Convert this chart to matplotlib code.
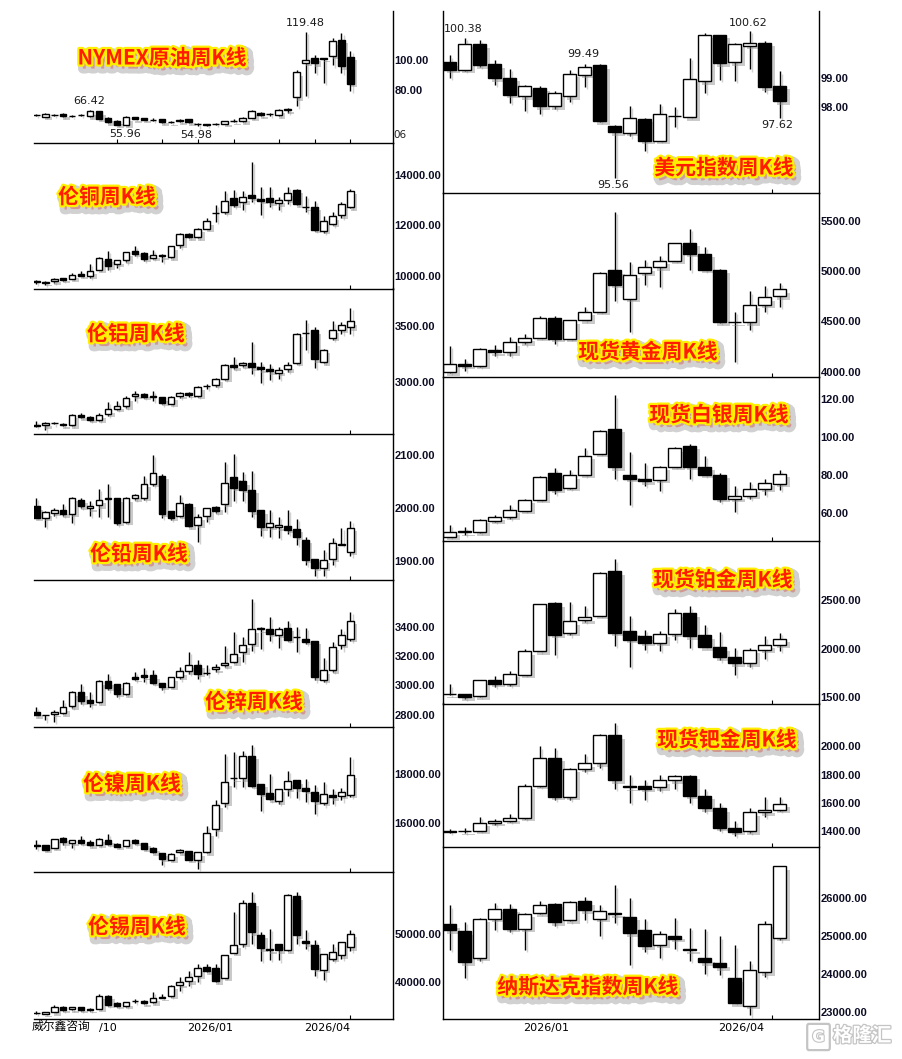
import matplotlib
matplotlib.use('Agg')
import matplotlib.pyplot as plt
import matplotlib.patheffects as pe
from matplotlib.patches import Rectangle, FancyBboxPatch

# ---------------- data (weekly OHLC) ----------------
oil_o = [62.9, 61.5, 63.0, 63.6, 62.0, 62.9, 61.8, 65.2, 60.9, 59.0, 56.3, 61.3, 60.9, 59.6, 60.0, 58.0, 58.4, 59.9, 56.6, 56.5, 56.9, 56.8, 58.6, 58.4, 60.9, 64.0, 63.4, 62.5, 65.9, 75.0, 98.6, 101.8, 101.8, 103.2, 114.3, 102.7]
oil_h = [63.5, 64.0, 63.6, 64.2, 62.5, 63.6, 66.42, 65.5, 61.3, 59.4, 61.8, 61.6, 61.0, 60.5, 60.3, 58.6, 60.1, 60.1, 57.3, 56.5, 57.4, 58.8, 59.8, 61.2, 66.0, 64.6, 64.5, 67.0, 67.6, 93.2, 119.48, 103.4, 101.8, 115.2, 118.9, 106.8]
oil_l = [62.3, 61.3, 62.3, 61.5, 61.4, 62.2, 61.4, 60.0, 57.6, 56.0, 55.96, 59.8, 59.3, 58.8, 57.6, 57.3, 58.1, 57.5, 54.98, 55.5, 56.3, 56.5, 58.1, 58.2, 60.6, 62.0, 62.0, 62.0, 64.0, 68.6, 76.1, 91.4, 84.5, 96.6, 91.4, 79.1]
oil_c = [62.9, 63.6, 62.9, 61.9, 61.8, 62.8, 65.2, 60.2, 57.9, 56.3, 61.3, 60.0, 59.5, 59.5, 57.9, 57.9, 59.7, 57.7, 56.5, 56.1, 56.8, 58.4, 58.7, 60.9, 65.4, 62.5, 63.3, 66.3, 67.0, 92.0, 100.0, 98.2, 101.1, 113.0, 96.1, 84.1]

cu_o = [9774, 9730, 9790, 9920, 9880, 10090, 10010, 10250, 10675, 10475, 10610, 11000, 10910, 10715, 10835, 10740, 11230, 11670, 11535, 11870, 12480, 12555, 13100, 12950, 13230, 13060, 13100, 12890, 13020, 13430, 12740, 12755, 11800, 12065, 12400, 12730]
cu_h = [9840, 9780, 9900, 9930, 10100, 10180, 10480, 10740, 11000, 10620, 10960, 11200, 10950, 11020, 10870, 11180, 11700, 11700, 11900, 12300, 12800, 13390, 13400, 13360, 14540, 13520, 13520, 13130, 13520, 13460, 13190, 12970, 12360, 12530, 12930, 13445]
cu_l = [9680, 9640, 9710, 9800, 9860, 9980, 9920, 10230, 10240, 10320, 10530, 10800, 10600, 10660, 10550, 10700, 11100, 11500, 11500, 11850, 12130, 12460, 12740, 12600, 12930, 12400, 12730, 12600, 12860, 12800, 12530, 11800, 11710, 12000, 12300, 12700]
cu_c = [9770, 9770, 9880, 9840, 10040, 10000, 10210, 10715, 10370, 10610, 10940, 10870, 10675, 10835, 10780, 11165, 11670, 11535, 11870, 12160, 12490, 12970, 12820, 13125, 13100, 12990, 12930, 13020, 13300, 12835, 12730, 11830, 12160, 12360, 12860, 13390]

al_o = [2611, 2611, 2635, 2626, 2611, 2707, 2690, 2662, 2716, 2760, 2785, 2880, 2895, 2871, 2866, 2806, 2880, 2900, 2880, 2963, 2976, 3030, 3155, 3150, 3173, 3135, 3120, 3084, 3114, 3173, 3440, 3464, 3180, 3398, 3470, 3494]
al_h = [2650, 2640, 2645, 2630, 2710, 2720, 2700, 2720, 2820, 2830, 2880, 2925, 2900, 2925, 2868, 2880, 2910, 2910, 2965, 2985, 3040, 3160, 3230, 3180, 3360, 3180, 3165, 3135, 3180, 3440, 3554, 3494, 3295, 3545, 3540, 3668]
al_l = [2600, 2566, 2620, 2605, 2605, 2680, 2655, 2650, 2700, 2750, 2770, 2835, 2860, 2835, 2800, 2800, 2860, 2870, 2870, 2935, 2960, 3020, 3120, 3140, 3075, 2994, 3020, 3030, 3090, 3160, 3285, 3126, 3170, 3380, 3434, 3434]
al_c = [2610, 2635, 2634, 2611, 2707, 2686, 2662, 2707, 2755, 2790, 2862, 2895, 2871, 2872, 2815, 2871, 2900, 2889, 2960, 2965, 3030, 3155, 3135, 3173, 3135, 3114, 3096, 3110, 3150, 3434, 3440, 3204, 3290, 3470, 3515, 3545]

pb_o = [2003, 1982, 1991, 1996, 1989, 2016, 2000, 2005, 2017, 2018, 1974, 2018, 2019, 2046, 2061, 1994, 1986, 2008, 1969, 1985, 2002, 2008, 2059, 2050, 2034, 1996, 1965, 1964, 1966, 1961, 1941, 1905, 1888, 1905, 1931, 1918]
pb_h = [2019, 1995, 2000, 2007, 2020, 2018, 2014, 2036, 2046, 2018, 2020, 2027, 2060, 2099, 2063, 1995, 2024, 2010, 1989, 2001, 2003, 2087, 2102, 2067, 2069, 1996, 1996, 1984, 1996, 1980, 1946, 1905, 1921, 1944, 1963, 1976]
pb_l = [1982, 1964, 1985, 1986, 1972, 2000, 1986, 1984, 1984, 1968, 1972, 2016, 2015, 2042, 1982, 1978, 1984, 1964, 1936, 1974, 1990, 1993, 2013, 2013, 1983, 1947, 1946, 1944, 1952, 1930, 1893, 1873, 1873, 1893, 1931, 1911]
pb_c = [1982, 1992, 1997, 1988, 2019, 2003, 2003, 2016, 2018, 1972, 2018, 2025, 2046, 2066, 1989, 1982, 2009, 1966, 1984, 2000, 1994, 2047, 2038, 2034, 1994, 1964, 1972, 1968, 1959, 1946, 1903, 1888, 1903, 1934, 1932, 1963]

zn_o = [2823, 2796, 2807, 2812, 2860, 2955, 2898, 2887, 3029, 3007, 2939, 3057, 3068, 3068, 3016, 2993, 3061, 3097, 3140, 3085, 3110, 3136, 3159, 3231, 3283, 3381, 3381, 3345, 3392, 3329, 3317, 3304, 3039, 3102, 3277, 3317]
zn_h = [2857, 2800, 2830, 2898, 2960, 3011, 2955, 3035, 3079, 3010, 3025, 3091, 3118, 3102, 3018, 3061, 3129, 3227, 3170, 3136, 3147, 3272, 3367, 3329, 3585, 3397, 3465, 3397, 3442, 3397, 3390, 3306, 3186, 3299, 3385, 3499]
zn_l = [2796, 2762, 2751, 2807, 2850, 2875, 2853, 2880, 2966, 2921, 2935, 3034, 3027, 3011, 2966, 2990, 3041, 3080, 3041, 3068, 3091, 3125, 3154, 3163, 3238, 3249, 3306, 3254, 3302, 3227, 3283, 3034, 3027, 3095, 3245, 3306]
zn_c = [2796, 2797, 2819, 2853, 2955, 2893, 2882, 3029, 2984, 2943, 3018, 3045, 3061, 3018, 2993, 3057, 3097, 3140, 3080, 3086, 3125, 3154, 3215, 3277, 3381, 3390, 3351, 3385, 3311, 3328, 3299, 3057, 3102, 3265, 3345, 3442]

ni_o = [15100, 15120, 15000, 15405, 15200, 15300, 15250, 15136, 15325, 15165, 15095, 15325, 15200, 15000, 14800, 14515, 14825, 14870, 14515, 14825, 15770, 16820, 17820, 17820, 18740, 17590, 17230, 16880, 17390, 17730, 17420, 17280, 16820, 17150, 17120, 17150]
ni_h = [15300, 15130, 15380, 15460, 15320, 15500, 15300, 15400, 15570, 15200, 15330, 15370, 15210, 15020, 14800, 14790, 14940, 14890, 14840, 15900, 16920, 18800, 18875, 18940, 19150, 17600, 17990, 17400, 18130, 17760, 17800, 17530, 17660, 17390, 17420, 18670]
ni_l = [14960, 14900, 14990, 15100, 15000, 15150, 15080, 15100, 15130, 15030, 15080, 15150, 14940, 14800, 14310, 14500, 14800, 14500, 14150, 14800, 15470, 16650, 17460, 17460, 17460, 16510, 16920, 16780, 17120, 17010, 16850, 16380, 16720, 16780, 16920, 17050]
ni_c = [15095, 14920, 15365, 15230, 15300, 15200, 15100, 15365, 15165, 15055, 15300, 15200, 14960, 14825, 14555, 14760, 14920, 14530, 14825, 15610, 16740, 17660, 17830, 18710, 17520, 17190, 16960, 17390, 17690, 17420, 17320, 16880, 17190, 17050, 17280, 17960]

sn_o = [33570, 33360, 33710, 34760, 34340, 34760, 34480, 34400, 37200, 35600, 35100, 36160, 36000, 35800, 37000, 37130, 39500, 40200, 41400, 43150, 43000, 40900, 46150, 48000, 56600, 49900, 47000, 48000, 46650, 58000, 48700, 47800, 42600, 44900, 45600, 47300]
sn_h = [33900, 33720, 35300, 35000, 34900, 34900, 34600, 37500, 37300, 35800, 35900, 36500, 36200, 37900, 37500, 39500, 41000, 42450, 43850, 43850, 43850, 45800, 54700, 57200, 58900, 50500, 51200, 48100, 58400, 58900, 51000, 48900, 46000, 47900, 48500, 51000]
sn_l = [33300, 33300, 33700, 34000, 34150, 33900, 34000, 34300, 35100, 34800, 34900, 35600, 35500, 35700, 36600, 37000, 38250, 39300, 40000, 42100, 40000, 40800, 46100, 47300, 48000, 44400, 44750, 44550, 46500, 48000, 47000, 41260, 40550, 44400, 44900, 46500]
sn_c = [33560, 33710, 34760, 34200, 34760, 34200, 34200, 37200, 35320, 35100, 35800, 36150, 35600, 36700, 36700, 39300, 40000, 41000, 43000, 42300, 40200, 45700, 47830, 56600, 50500, 47100, 46650, 46650, 58200, 49800, 48200, 42800, 45950, 46400, 48400, 50100]

dx_o = [99.54, 99.29, 100.16, 99.47, 99.01, 98.38, 98.67, 98.03, 98.38, 99.11, 99.45, 97.34, 97.11, 97.60, 96.85, 97.71, 97.66, 98.89, 100.49, 99.54, 100.12, 100.22, 98.74]
dx_h = [99.78, 100.38, 100.32, 99.61, 99.32, 98.78, 98.72, 98.55, 99.29, 99.49, 99.47, 97.40, 98.05, 97.63, 98.11, 98.02, 99.70, 100.56, 100.49, 100.22, 100.62, 100.28, 99.23]
dx_l = [99.01, 99.24, 99.38, 98.77, 98.14, 97.86, 97.76, 97.93, 98.17, 98.69, 97.49, 95.56, 96.99, 96.48, 96.85, 97.33, 97.66, 98.48, 98.95, 98.90, 99.30, 98.52, 97.62]
dx_c = [99.29, 100.18, 99.44, 99.00, 98.43, 98.72, 98.03, 98.49, 99.15, 99.40, 97.51, 97.14, 97.63, 96.85, 97.77, 97.70, 98.98, 100.49, 99.52, 100.18, 100.21, 98.69, 98.21]

au_o = [3994, 4077, 4060, 4213, 4193, 4293, 4336, 4532, 4326, 4509, 4598, 5007, 4724, 4983, 5040, 5106, 5282, 5173, 5013, 4495, 4492, 4668, 4748]
au_h = [4253, 4127, 4230, 4260, 4349, 4376, 4549, 4549, 4515, 4648, 4997, 5594, 5096, 5116, 5156, 5282, 5422, 5246, 5020, 4592, 4798, 4854, 4884]
au_l = [3984, 4004, 4044, 4160, 4160, 4270, 4336, 4276, 4326, 4509, 4598, 4708, 4392, 4867, 4841, 5100, 5007, 5007, 4482, 4094, 4416, 4598, 4641]
au_c = [4077, 4060, 4226, 4193, 4293, 4336, 4532, 4326, 4509, 4598, 4983, 4864, 4963, 5040, 5106, 5282, 5173, 5013, 4492, 4492, 4668, 4741, 4821]

ag_o = [47.6, 50.4, 49.9, 56.0, 58.1, 61.3, 67.1, 81.2, 73.3, 80.1, 91.2, 104.4, 80.1, 78.0, 77.5, 84.5, 95.6, 84.5, 80.3, 67.5, 69.2, 72.7, 75.4]
ag_h = [53.9, 52.5, 56.6, 59.0, 64.3, 67.3, 79.6, 83.6, 82.8, 94.2, 103.9, 122.0, 92.4, 86.5, 84.6, 94.7, 96.5, 90.3, 81.0, 74.5, 76.3, 77.7, 82.9]
ag_l = [47.6, 48.5, 49.6, 55.5, 56.9, 61.0, 67.1, 70.1, 72.7, 79.8, 91.0, 78.0, 64.3, 74.1, 71.7, 84.5, 78.0, 79.8, 65.7, 60.4, 67.5, 69.6, 72.2]
ag_c = [50.2, 49.9, 56.4, 58.1, 61.7, 67.1, 79.2, 72.2, 79.8, 90.3, 103.5, 84.2, 78.0, 76.8, 84.5, 94.2, 84.5, 80.3, 67.5, 69.2, 72.7, 75.9, 80.7]

pt_o = [1535, 1537, 1510, 1675, 1640, 1733, 1973, 2469, 2164, 2291, 2342, 2795, 2178, 2127, 2062, 2154, 2366, 2137, 2017, 1914, 1853, 1990, 2041]
pt_h = [1634, 1540, 1680, 1716, 1777, 1993, 2456, 2486, 2480, 2445, 2788, 2918, 2342, 2195, 2182, 2411, 2435, 2247, 2171, 2007, 2007, 2127, 2161]
pt_l = [1530, 1486, 1505, 1606, 1616, 1733, 1973, 1932, 2137, 2274, 2342, 2034, 1818, 1983, 1976, 2086, 2010, 2017, 1880, 1726, 1818, 1897, 1976]
pt_c = [1540, 1503, 1675, 1640, 1743, 1973, 2456, 2144, 2281, 2325, 2777, 2164, 2092, 2062, 2154, 2366, 2130, 2017, 1914, 1853, 1990, 2041, 2103]

pd_o = [1390, 1395, 1400, 1455, 1470, 1490, 1720, 1920, 1640, 1840, 1880, 2080, 1715, 1720, 1710, 1760, 1790, 1650, 1560, 1420, 1395, 1530, 1550]
pd_h = [1410, 1420, 1500, 1480, 1520, 1735, 2000, 1990, 1850, 1950, 2090, 2170, 1800, 1760, 1800, 1800, 1800, 1700, 1600, 1470, 1560, 1640, 1640]
pd_l = [1380, 1380, 1395, 1440, 1460, 1480, 1710, 1620, 1620, 1820, 1850, 1700, 1600, 1620, 1680, 1700, 1600, 1530, 1400, 1360, 1380, 1500, 1540]
pd_c = [1395, 1400, 1455, 1470, 1490, 1720, 1920, 1640, 1840, 1880, 2080, 1760, 1710, 1700, 1760, 1790, 1650, 1560, 1420, 1390, 1530, 1550, 1590]

nq_o = [25316, 25132, 24439, 25465, 25728, 25202, 25614, 25860, 25421, 25930, 25465, 25579, 25526, 25158, 24781, 25026, 24675, 24430, 24298, 23904, 23184, 24061, 24965]
nq_h = [25816, 25377, 25491, 25877, 25860, 25605, 25930, 25886, 25947, 26035, 25833, 26342, 26018, 25465, 25140, 25491, 25228, 25202, 25000, 24763, 24342, 25395, 26868]
nq_l = [24649, 23912, 24368, 25175, 25114, 24649, 25596, 25272, 25395, 25421, 25000, 25351, 24237, 24588, 24430, 24675, 24350, 24018, 23974, 23246, 22921, 23930, 24895]
nq_c = [25158, 24325, 25465, 25728, 25202, 25596, 25833, 25377, 25903, 25684, 25667, 25623, 25088, 24737, 25070, 24939, 24640, 24325, 24193, 23246, 24123, 25333, 26842]

titles_left = ['NYMEX原油周K线', '伦铜周K线', '伦铝周K线', '伦铅周K线', '伦锌周K线', '伦镍周K线', '伦锡周K线']
titles_right = ['美元指数周K线', '现货黄金周K线', '现货白银周K线', '现货铂金周K线', '现货钯金周K线', '纳斯达克指数周K线']

ticks_left = [[80, 100], [10000, 12000, 14000], [3000, 3500], [1900, 2000, 2100],
              [2800, 3000, 3200, 3400], [16000, 18000], [40000, 50000]]
ticks_right = [[98, 99], [4000, 4500, 5000, 5500], [60, 80, 100, 120],
               [1500, 2000, 2500], [1400, 1600, 1800, 2000], [23000, 24000, 25000, 26000]]

annotations = [('119.48', 305, 22.7), ('66.42', 89, 101), ('55.96', 125, 133.5), ('54.98', 196, 135),
               ('100.38', 463, 28.7), ('99.49', 583, 54), ('95.56', 613, 185),
               ('100.62', 748, 22.7), ('97.62', 777, 125)]

# ---------------- layout ----------------
W, H = 902, 1059
fig = plt.figure(figsize=(W / 100, H / 100), dpi=100)
fig.patch.set_facecolor('white')

CJK = ['Noto Sans CJK SC', 'DejaVu Sans']


def ax_at(x0, y0, x1, y1):
    # half-pixel shift so 1px frame lines land on a single pixel row/column
    x0 += 0.5; x1 += 0.5; y0 += 0.5; y1 += 0.5
    ax = fig.add_axes([x0 / W, 1 - y1 / H, (x1 - x0) / W, (y1 - y0) / H])
    ax.patch.set_visible(False)   # transparent, so neighbouring frame lines are not covered
    return ax


def draw_candles(ax, o, h, l, c, width):
    for i, (oo, hh, ll, cc) in enumerate(zip(o, h, l, c)):
        ax.plot([i, i], [ll, hh], color='black', lw=1.0, zorder=2, solid_capstyle='butt',
                path_effects=[pe.SimpleLineShadow(offset=(1.5, -1.5), shadow_color='#999999', alpha=0.45),
                              pe.Normal()])
        up = cc >= oo
        rect = Rectangle((i - width / 2, min(oo, cc)), width, abs(cc - oo),
                         facecolor='white' if up else 'black', edgecolor='black', lw=1.0, zorder=3)
        rect.set_path_effects([pe.SimplePatchShadow(offset=(2.5, -2.5), shadow_rgbFace='#8a8a8a', alpha=0.45),
                               pe.Normal()])
        ax.add_patch(rect)


def style_axis(ax, ticks, left_col):
    for s in ax.spines.values():
        s.set_linewidth(1.0)
        s.set_color('black')
        s.set_zorder(5)
    ax.spines['top'].set_visible(False)
    if left_col:
        ax.spines['left'].set_visible(False)
    ax.yaxis.tick_right()
    ax.set_yticks(ticks)
    ax.set_yticklabels([f'{t:.2f}' for t in ticks], fontfamily='Liberation Sans', fontweight='bold',
                       fontsize=8.0, color='#0c0c24')
    ax.tick_params(axis='y', length=0, pad=1.6)
    ax.tick_params(axis='x', which='both', direction='in', length=3, width=0.8, labelbottom=False)


def put_title(x, y, s):
    fig.text(x / W, 1 - y / H, s, ha='center', va='center', fontsize=15, fontweight='bold',
             color='#ff1c00', family=CJK, zorder=10,
             path_effects=[pe.Stroke(linewidth=7, foreground='#9a9a9a', alpha=0.45, offset=(2.5, -3)),
                           pe.Stroke(linewidth=3.2, foreground='#fff000'), pe.Normal()])


left_data = [(oil_o, oil_h, oil_l, oil_c), (cu_o, cu_h, cu_l, cu_c), (al_o, al_h, al_l, al_c),
             (pb_o, pb_h, pb_l, pb_c), (zn_o, zn_h, zn_l, zn_c), (ni_o, ni_h, ni_l, ni_c),
             (sn_o, sn_h, sn_l, sn_c)]
left_rows = [(10, 142), (142, 288), (288, 434), (434, 579), (579, 726), (726, 871), (871, 1018)]
left_ylims = [(44.03, 134.1), (9495, 15300), (2530, 3841), (1866, 2138), (2721, 3721), (14045, 19915), (32390, 63200)]
left_title_pos = [(162, 58), (107, 197), (136, 334), (139, 554), (254, 702), (132, 784), (137, 927)]

right_data = [(dx_o, dx_h, dx_l, dx_c), (au_o, au_h, au_l, au_c), (ag_o, ag_h, ag_l, ag_c),
              (pt_o, pt_h, pt_l, pt_c), (pd_o, pd_h, pd_l, pd_c), (nq_o, nq_h, nq_l, nq_c)]
right_rows = [(10, 192), (192, 376), (376, 540), (540, 703), (703, 846), (846, 1018)]
right_ylims = [(95.06, 101.33), (3951, 5784), (45.5, 132.0), (1438, 3113), (1286, 2307), (22842, 27368)]
right_title_pos = [(724, 168), (648, 352), (719, 415), (723, 580), (727, 740), (588, 987)]

for k, (d, (y0, y1)) in enumerate(zip(left_data, left_rows)):
    ax = ax_at(33, y0, 392, y1)
    draw_candles(ax, *d, width=0.75)
    ax.set_xlim(-0.30, 39.68)
    ax.set_ylim(*left_ylims[k])
    style_axis(ax, ticks_left[k], True)
    ax.set_xticks([9, 14, 18, 22, 27, 31, 35] if k == 0 else [35])

for k, (d, (y0, y1)) in enumerate(zip(right_data, right_rows)):
    ax = ax_at(442, y0, 818, y1)
    draw_candles(ax, *d, width=0.87)
    ax.set_xlim(-0.487, 24.58)
    ax.set_ylim(*right_ylims[k])
    style_axis(ax, ticks_right[k], False)
    ax.set_xticks([21.5])

for s, (x, y) in zip(titles_left, left_title_pos):
    put_title(x, y, s)
for s, (x, y) in zip(titles_right, right_title_pos):
    put_title(x, y, s)

for s, x, y in annotations:
    fig.text(x / W, 1 - y / H, s, ha='center', va='center', fontsize=8, color='#1a1a1a',
             family='DejaVu Sans', zorder=11)

# truncated axis label fragment in the top-left panel
fig.text(393 / W, 1 - 135 / H, '06', ha='left', va='center', fontsize=7.5, color='#222222', family='DejaVu Sans')

# date labels
for s, x in [('/10', 117), ('2026/01', 233), ('2026/04', 350), ('2026/01', 569), ('2026/04', 764)]:
    fig.text(x / W, 1 - 1028 / H, s, ha='right', va='center', fontsize=8, color='black', family='DejaVu Sans')
fig.text(32 / W, 1 - 1026 / H, '威尔鑫咨询', ha='left', va='center', fontsize=8.5, color='black', family=CJK)

# watermark
box = FancyBboxPatch((809 / W, 1 - 1048 / H), 19 / W, 22 / H, boxstyle='round,pad=0.002',
                     transform=fig.transFigure, facecolor='white', edgecolor='#c4c4c4', lw=1.6)
fig.patches.append(box)
fig.text(818.5 / W, 1 - 1037 / H, 'G', ha='center', va='center', fontsize=11, fontweight='bold',
         color='white', family='DejaVu Sans',
         path_effects=[pe.Stroke(linewidth=1.6, foreground='#c4c4c4'), pe.Normal()])
fig.text(833 / W, 1 - 1036 / H, '格隆汇', ha='left', va='center', fontsize=14, fontweight='bold',
         color='white', family=CJK,
         path_effects=[pe.Stroke(linewidth=1.8, foreground='#c4c4c4'), pe.Normal()])

fig.savefig('out.png', dpi=100, facecolor='white')
